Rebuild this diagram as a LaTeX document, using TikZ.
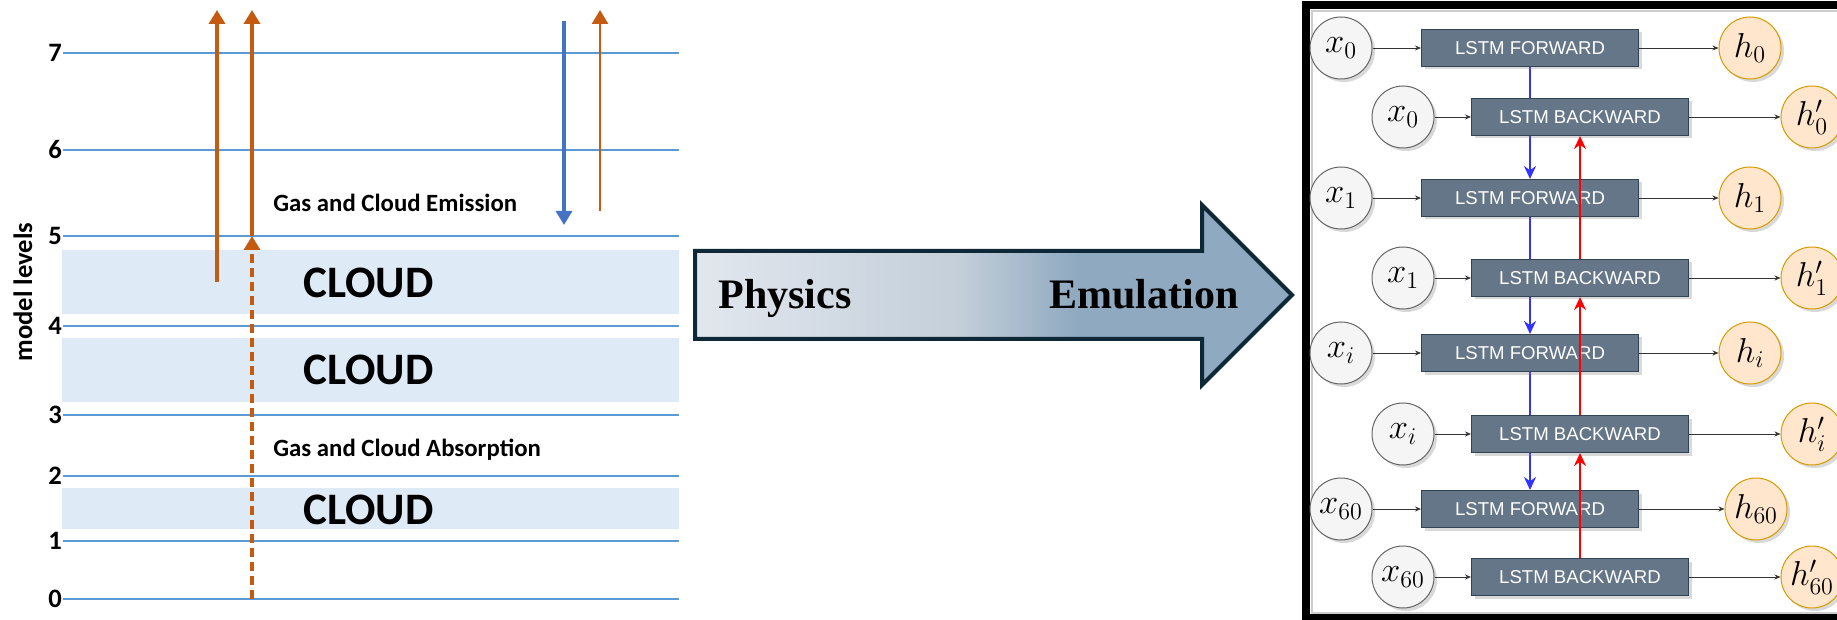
\documentclass[tikz,border=0pt]{standalone}
\usepackage{fontspec}
\setmainfont{Liberation Serif}
\newfontfamily\calibrifont{Carlito}
\newfontfamily\arialfont{Liberation Sans}
\usetikzlibrary{arrows.meta,shadows,backgrounds}

\definecolor{levelblue}{HTML}{5B9BD5}
\definecolor{cloudfill}{HTML}{DEEBF7}
\definecolor{radorange}{HTML}{C55A11}
\definecolor{radblue}{HTML}{4472C4}
\definecolor{arrowedge}{HTML}{0E2838}
\definecolor{arrowL}{HTML}{E2E7EE}
\definecolor{arrowM}{HTML}{C4CFDA}
\definecolor{arrowR}{HTML}{8FA9C0}
\definecolor{lstmfill}{HTML}{647687}
\definecolor{lstmedge}{HTML}{314354}
\definecolor{xfill}{HTML}{F5F5F5}
\definecolor{xedge}{HTML}{666666}
\definecolor{hfill}{HTML}{FFE6CC}
\definecolor{hedge}{HTML}{D79B00}
\definecolor{fwdblue}{HTML}{3333FF}

\pgfdeclarehorizontalshading{physemu}{100bp}{color(0bp)=(arrowL); color(25bp)=(arrowL); color(47bp)=(arrowM); color(57bp)=(arrowR); color(100bp)=(arrowR)}

\begin{document}
\begin{tikzpicture}[x=0.5pt, y=-0.5pt,
    levelline/.style={levelblue, line width=1.4pt},
    lvlnum/.style={font=\calibrifont\bfseries\fontsize{13.3}{16}\selectfont},
    cloudlabel/.style={anchor=base west, inner sep=0pt, font=\calibrifont\bfseries\fontsize{22.5}{27}\selectfont},
    gastext/.style={anchor=base west, inner sep=0pt, font=\calibrifont\bfseries\fontsize{12.4}{15}\selectfont},
    upray/.style={radorange, line width=1.75pt, -{Triangle[width=8pt,length=7pt]}},
    bigtext/.style={inner sep=0pt, font=\bfseries\fontsize{21}{25}\selectfont},
    lstm/.style={rectangle, draw=lstmedge, fill=lstmfill, text=white, line width=0.5pt,
        minimum width=108.5pt, minimum height=18.5pt, inner sep=0pt,
        font=\arialfont\fontsize{9.3}{11}\selectfont,
        drop shadow={shadow xshift=1.5pt, shadow yshift=-1.5pt, opacity=0.3}},
    xin/.style={circle, draw=xedge, fill=xfill, line width=0.5pt, minimum size=31pt, inner sep=0pt,
        font=\fontsize{17}{20}\selectfont,
        drop shadow={shadow xshift=1.5pt, shadow yshift=-1.5pt, opacity=0.3}},
    hout/.style={xin, draw=hedge, fill=hfill},
    feed/.style={black!80, line width=0.4pt, -{Stealth[length=3pt,width=2.5pt]}},
    fwdlink/.style={fwdblue, line width=1.3pt, -{Stealth[length=6.5pt,width=6pt]}},
    bwdlink/.style={red, line width=1.3pt, -{Stealth[length=6.5pt,width=6pt]}}]

    \useasboundingbox (0,0) rectangle (1837,620);

    % model levels and cloud layers
    \fill[cloudfill] (62,250) rectangle (679,314);
    \fill[cloudfill] (62,338) rectangle (679,402);
    \fill[cloudfill] (62,488) rectangle (679,529);
    \foreach \lev/\ly in {0/599,1/541,2/476,3/415,4/326,5/236,6/150,7/53} {
        \draw[levelline] (63,\ly) -- (679,\ly);
        \node[lvlnum] (lev\lev) at (55,\ly) {\lev};
    }
    \node[lvlnum, rotate=90] (levtitle) at (23,292) {model levels};
    \node[cloudlabel] (cloudA) at (303,298) {CLOUD};
    \node[cloudlabel] (cloudB) at (303,385) {CLOUD};
    \node[cloudlabel] (cloudC) at (303,524) {CLOUD};
    \node[gastext] (emission) at (273,212) {Gas and Cloud Emission};
    \node[gastext] (absorption) at (273,456) {Gas and Cloud Absorption};

    \draw[upray] (217,282) -- (217,10);
    \draw[upray, dash pattern=on 4.5pt off 2.5pt] (252,599) -- (252,236);
    \draw[upray] (252,236) -- (252,10);
    \draw[radblue, line width=1.6pt, -{Triangle[width=8pt,length=7pt]}] (564,21) -- (564,225);
    \draw[upray, line width=1.3pt] (600,211) -- (600,10);

    % big arrow
    \draw[arrowedge, line width=2pt, line join=miter, shading=physemu]
        (695,251) -- (1202,251) -- (1202,205) -- (1292,295) -- (1202,385)
        -- (1202,339) -- (695,339) -- cycle;
    \node[bigtext, anchor=base west] (physics) at (718,308) {Physics};
    \node[bigtext, anchor=base east] (emulation) at (1239,308) {Emulation};

    % bidirectional LSTM
    \draw[black!20, line width=1pt] (1837,11) -- (1311.5,11) -- (1311.5,612.5) -- (1837,612.5);
    \draw[black, line width=4pt, line join=miter] (1837,5.5) -- (1306,5.5) -- (1306,618) -- (1837,618);

    \foreach \k/\yf/\yb/\hx in {0/48/117/1750,1/198/278/1750,i/353/434/1750,60/509/577/1756} {
        \node[xin] (xf\k) at (1341,\yf) {$x_{\k}$};
        \node[lstm] (fw\k) at (1530,\yf) {LSTM FORWARD};
        \node[hout] (hf\k) at (\hx,\yf) {$h_{\k}$};
        \node[xin] (xb\k) at (1403,\yb) {$x_{\k}$};
        \node[lstm] (bw\k) at (1580,\yb) {LSTM BACKWARD};
        \node[hout] (hb\k) at (1812,\yb) {$h'_{\k}$};
        \draw[feed] (xf\k) -- (fw\k);
        \draw[feed] (fw\k) -- (hf\k);
        \draw[feed] (xb\k) -- (bw\k);
        \draw[feed] (bw\k) -- (hb\k);
    }
    \begin{scope}[on background layer]
        \foreach \a/\b in {0/1,1/i,i/60}
            \draw[fwdlink] (fw\a) -- (fw\b);
    \end{scope}
    \foreach \a/\b in {60/i,i/1,1/0}
        \draw[bwdlink] (bw\a) -- (bw\b);
\end{tikzpicture}
\end{document}
